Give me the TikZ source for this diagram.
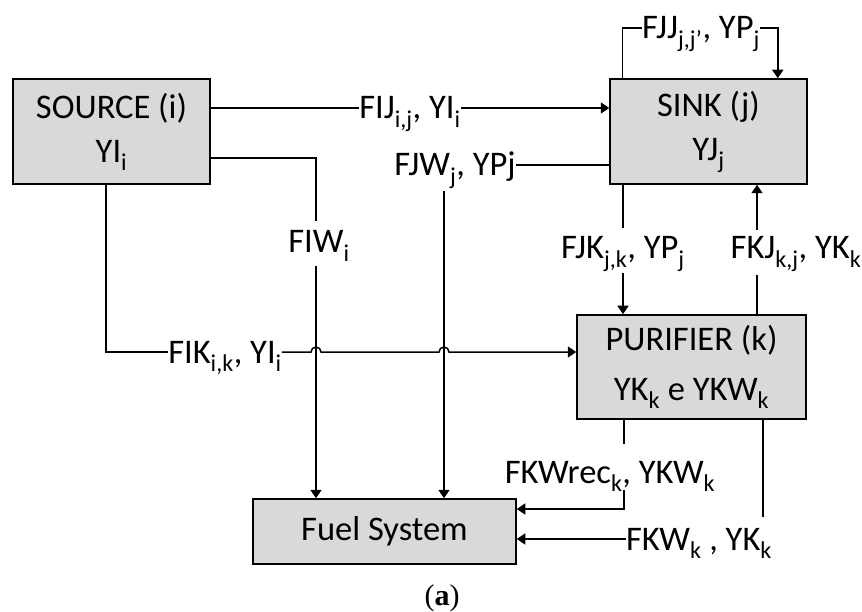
\documentclass[tikz,border=0pt]{standalone}
\usepackage{fontspec}
\setmainfont{Carlito}
\newfontfamily\capfont{Liberation Serif}
\usetikzlibrary{arrows.meta}
\definecolor{boxgray}{HTML}{D9D9D9}
\newcommand\sbs[1]{\textsubscript{#1}}
\begin{document}
\begin{tikzpicture}[x=1pt,y=-1pt,
  font=\fontsize{34.5}{44}\selectfont,
  box/.style={draw=black,line width=1.5pt,fill=boxgray,align=center,inner sep=0pt},
  lbl/.style={inner sep=0pt,text height=22pt,text depth=0pt,anchor=center},
  conn/.style={line width=1.5pt},
  arr/.style={-{Triangle[length=8.5pt,width=11pt]}}]
\useasboundingbox (0,0) rectangle (862,612);

% boxes
\node[box,minimum width=197pt,minimum height=105pt] (src) at (111.5,131.5) {SOURCE (i)\\YI\sbs{i}};
\node[box,minimum width=197pt,minimum height=105pt] (sink) at (708.5,131.5) {SINK (j)\\YJ\sbs{j}};
\node[box,minimum width=229pt,minimum height=104pt,font=\fontsize{34.5}{50}\selectfont] (pur) at (691.5,367) {PURIFIER (k)\\YK\sbs{k} e YKW\sbs{k}};
\node[box,minimum width=263pt,minimum height=65pt] (fuel) at (384.5,531.5) {Fuel System};

% FIJ
\node[lbl] (fij) at (410,108) {FIJ\sbs{i,j}, YI\sbs{i}};
\draw[conn] (src.east |- fij) -- (fij.west);
\draw[conn,arr] (fij.east) -- (sink.west |- fij);

% FJJ loop
\node[lbl] (fjj) at (701,28) {FJJ\sbs{j,j'}, YP\sbs{j}};
\draw[conn] ([xshift=13pt]sink.north west) |- (fjj.west);
\draw[conn,arr] (fjj.east) -| ([xshift=-30pt]sink.north east);

% FIW
\node[lbl] (fiw) at (319,242) {FIW\sbs{i}};
\coordinate (iwS) at (0,158);
\coordinate (iwT) at (316,221);
\coordinate (iwB) at (316,266);
\draw[conn] (src.east |- iwS) -| (iwT);
\draw[conn,arr] (iwB) -- (fuel.north -| iwB);

% FJW
\node[lbl] (fjw) at (455,165) {FJW\sbs{j}, YPj};
\coordinate (jwB) at (444,191);
\draw[conn] (fjw.east) -- (sink.west |- fjw.east);
\draw[conn,arr] (jwB) -- (fuel.north -| jwB);

% FIK
\node[lbl] (fik) at (225,352) {FIK\sbs{i,k}, YI\sbs{i}};
\draw[conn] ([xshift=-5.5pt]src.south) |- (fik.west);
\draw[conn,arr] (fik.east) -- (311,352) arc[start angle=180,end angle=0,radius=5pt]
  -- (439,352) arc[start angle=180,end angle=0,radius=5pt] -- (pur.west |- fik.east);

% FJK
\node[lbl] (fjk) at (623,248) {FJK\sbs{j,k}, YP\sbs{j}};
\draw[conn] (sink.south -| fjk) -- ([yshift=9pt]fjk.north);
\draw[conn,arr] ([yshift=-14pt]fjk.south) -- (pur.north -| fjk);

% FKJ
\node[lbl] (fkj) at (796,248) {FKJ\sbs{k,j}, YK\sbs{k}};
\coordinate (kjT) at (757,230);
\coordinate (kjB) at (757,275);
\draw[conn] (pur.north -| kjB) -- (kjB);
\draw[conn,arr] (kjT) -- (sink.south -| kjT);

% FKWrec
\node[lbl] (fkwr) at (610,472) {FKWrec\sbs{k}, YKW\sbs{k}};
\coordinate (krT) at (624,444);
\coordinate (krB) at (624,490);
\coordinate (krL) at (0,509);
\draw[conn] (pur.south -| krT) -- (krT);
\draw[conn,arr] (krB) |- (fuel.east |- krL);

% FKW
\node[lbl] (fkw) at (699,539) {FKW\sbs{k} , YK\sbs{k}};
\coordinate (kwB) at (763,517);
\draw[conn] (pur.south -| kwB) -- (kwB);
\draw[conn,arr] (fkw.west) -- (fuel.east |- fkw.west);

% caption
\node (cap) at (442,598) {\capfont\fontsize{30}{34}\selectfont(\textbf{a})};
\end{tikzpicture}
\end{document}
